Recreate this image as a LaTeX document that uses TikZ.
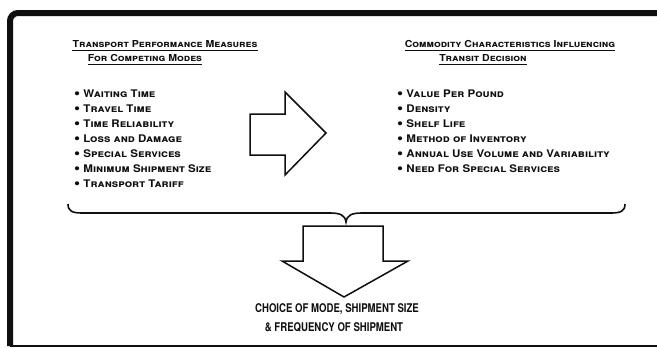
\documentclass[tikz,border=0pt]{standalone}
\usepackage{fontspec}
\setmainfont{TeX Gyre Heros}[FakeStretch=1.1]
\newfontfamily\narrowfont{TeX Gyre Heros}[FakeStretch=0.8]
\usetikzlibrary{positioning}
\definecolor{inkblack}{RGB}{15,15,15}
\newcommand{\dotmark}{\raisebox{-0.6pt}{\scalebox{1.5}{\textbullet}}\ }

\begin{document}
\begin{tikzpicture}[x=1pt, y=-1pt, node distance=15pt, color=inkblack]
    \tikzstyle{heading} = [inner sep=0pt, font=\fontsize{9.6}{11}\selectfont\bfseries\scshape]
    \tikzstyle{item} = [anchor=west, inner sep=0pt, text height=6pt, text depth=1pt, font=\fontsize{10.5}{12}\selectfont\bfseries\scshape]
    \tikzstyle{nextitem} = [below=15pt of #1.west, anchor=west]
    \tikzstyle{underline} = [line width=1.2pt]
    \tikzstyle{blockarrow} = [draw, line width=1.5pt, line join=miter, fill=white]
    \tikzstyle{result} = [inner sep=0pt, font=\fontsize{12}{14}\selectfont\narrowfont\bfseries]

    \useasboundingbox (0,0) rectangle (657,348);

    % Frame
    \draw [line width=6pt, rounded corners=8pt] (10,346) -- (10,13) -- (657,13);
    \draw [line width=1.5pt] (10,346) -- (657,346);

    % Headings
    \node [heading] (perf) at (165,44) {Transport Performance Measures};
    \node [heading] (modes) at (145,58) {For Competing Modes};
    \node [heading] (commodity) at (510,44) {Commodity Characteristics Influencing};
    \node [heading] (transit) at (483,58) {Transit Decision};
    \draw [underline] ([yshift=-2.5pt]perf.south west) -- ([yshift=-2.5pt]perf.south east);
    \draw [underline] ([yshift=-3pt]modes.south west) -- ([yshift=-3pt]modes.south east);
    \draw [underline] ([yshift=-2.5pt]commodity.south west) -- ([yshift=-2.5pt]commodity.south east);
    \draw [underline] ([yshift=-3pt]transit.south west) -- ([yshift=-3pt]transit.south east);

    % Transport performance measures
    \node [item] (waiting) at (74,95) {\dotmark Waiting Time};
    \node [item, nextitem=waiting] (travel) {\dotmark Travel Time};
    \node [item, nextitem=travel] (reliab) {\dotmark Time Reliability};
    \node [item, nextitem=reliab] (loss) {\dotmark Loss and Damage};
    \node [item, nextitem=loss] (special) {\dotmark Special Services};
    \node [item, nextitem=special] (minsize) {\dotmark Minimum Shipment Size};
    \node [item, nextitem=minsize] (tariff) {\dotmark Transport Tariff};

    % Commodity characteristics
    \node [item] (value) at (397,95) {\dotmark Value Per Pound};
    \node [item, nextitem=value] (density) {\dotmark Density};
    \node [item, nextitem=density] (shelf) {\dotmark Shelf Life};
    \node [item, nextitem=shelf] (inventory) {\dotmark Method of Inventory};
    \node [item, nextitem=inventory] (annual) {\dotmark Annual Use Volume and Variability};
    \node [item, nextitem=annual] (need) {\dotmark Need For Special Services};

    % Arrows
    \draw [blockarrow] (250,114) -- (285,114) -- (285,92) -- (326,133) -- (285,175) -- (285,155) -- (250,155) -- cycle;
    \draw [line width=1.6pt] (68,204) .. controls (68,211) and (72,213) .. (82,213) -- (330,213)
        .. controls (340,213) and (345,215) .. (346,222) .. controls (347,215) and (352,213) .. (362,213)
        -- (611,213) .. controls (621,213) and (625,211) .. (625,204);
    \draw [blockarrow] (303,226) -- (383,226) -- (383,261) -- (408,261) -- (344,297) -- (282,261) -- (303,261) -- cycle;

    % Result
    \node [result] (choice) at (337,309) {CHOICE OF MODE, SHIPMENT SIZE};
    \node [result] (freq) at (334,327) {\& FREQUENCY OF SHIPMENT};
\end{tikzpicture}
\end{document}
